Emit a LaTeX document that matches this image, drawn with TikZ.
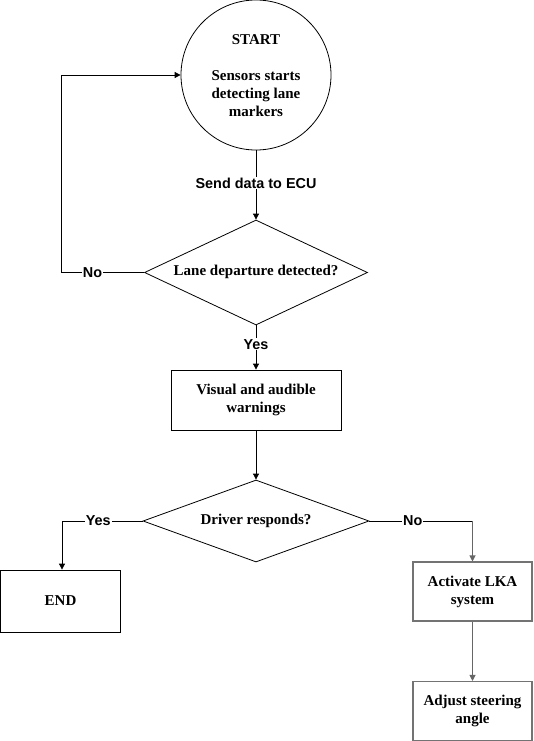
\documentclass[tikz,border=0pt]{standalone}
\usepackage{fontspec}
\setmainfont{Liberation Serif}
\newfontfamily\lblfont{Liberation Sans}
\usetikzlibrary{shapes.geometric,arrows.meta}
\begin{document}
\begin{tikzpicture}[x=1pt,y=-1pt,
  every node/.style={font=\fontsize{15}{18}\selectfont\bfseries, align=center},
  boxnode/.style={draw=black, line width=0.8pt, inner sep=0pt},
  graybox/.style={draw=black!55, line width=1.1pt, inner sep=0pt},
  dia/.style={draw=black, line width=0.8pt, diamond, inner sep=0pt},
  conn/.style={line width=0.8pt, -{Triangle[length=6pt,width=6pt]}},
  gconn/.style={line width=1.1pt, draw=black!60, -{Triangle[length=6pt,width=6pt]}},
  plain/.style={line width=0.8pt},
  lbl/.style={font=\lblfont\fontsize{14.4}{16}\selectfont\bfseries, fill=white, inner sep=1pt}
]
\useasboundingbox (0,0) rectangle (534,741);
% start circle
\node[circle, draw, line width=0.8pt, minimum size=150pt, inner sep=0pt] (start) at (256,75) {};
\node at (256,40) {START};
\node at (256,94) {Sensors starts\\detecting lane\\markers};
% diamond 1
\node[dia, minimum width=223pt, minimum height=105pt] (d1) at (256,272.5) {};
\node at (256,272) {Lane departure detected?};
% box 1
\node[boxnode, minimum width=170pt, minimum height=60pt] (b1) at (256,400) {Visual and audible\\warnings};
% diamond 2
\node[dia, minimum width=226pt, minimum height=82pt] (d2) at (256,521) {};
\node at (256,521) {Driver responds?};
% end
\node[boxnode, minimum width=120pt, minimum height=62pt] (endb) at (60.5,601) {END};
% LKA
\node[graybox, minimum width=119pt, minimum height=59pt] (lka) at (472.5,591.5) {Activate LKA\\system};
\node[graybox, minimum width=119pt, minimum height=59pt] (adj) at (472.5,711) {Adjust steering\\angle};
% connectors
\draw[conn] (start.south) -- node[lbl, pos=0.47]{Send data to ECU} (d1.north);
\coordinate (c1) at (61,272.5);
\coordinate (c2) at (61,75);
\draw[plain] (d1.west) -- node[lbl, pos=0.62]{No} (c1);
\draw[conn] (c1) -- (c2) -- (start.west);
\draw[conn] (d1.south) -- node[lbl, pos=0.43]{Yes} (b1.north);
\draw[conn] (b1.south) -- (d2.north);
\coordinate (c3) at (62,521);
\draw[plain] (d2.west) -- node[lbl, pos=0.55]{Yes} (c3);
\draw[conn] (c3) -- (endb.north -| c3);
\coordinate (c4) at (472.5,521);
\draw[plain] (d2.east) -- node[lbl, pos=0.42]{No} (c4);
\draw[gconn] (c4) -- (lka.north);
\draw[gconn] (lka.south) -- (adj.north);
\end{tikzpicture}
\end{document}
